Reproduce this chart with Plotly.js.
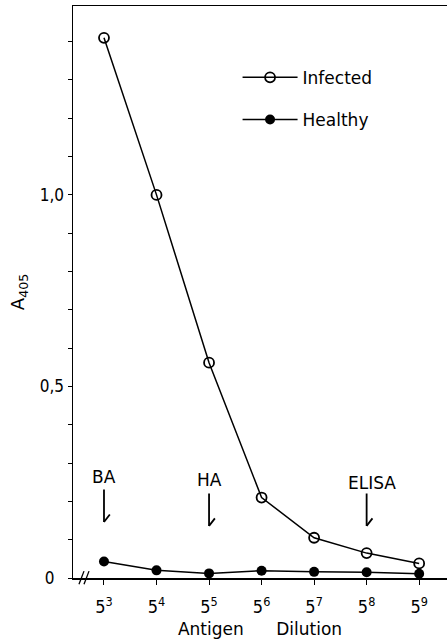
<!DOCTYPE html>
<html>
<head>
<meta charset="utf-8">
<script src="https://cdn.plot.ly/plotly-3.0.1.min.js"></script>
<style>html,body{margin:0;padding:0;background:#fff;}#chart{width:447px;height:641px;}</style>
</head>
<body>
<div id="chart"></div>
<script>
// Dilution exponents (antigen dilution 5^n)
var dilutionExp = [3, 4, 5, 6, 7, 8, 9];
var dilutionLabels = ['5<sup>3</sup>','5<sup>4</sup>','5<sup>5</sup>','5<sup>6</sup>','5<sup>7</sup>','5<sup>8</sup>','5<sup>9</sup>'];
// A405 readings
var infected = [1.41, 1.00, 0.562, 0.21, 0.105, 0.065, 0.038];
var healthy  = [0.043, 0.020, 0.012, 0.019, 0.016, 0.015, 0.011];
// y tick values & labels
var yTickVals = [0, 0.5, 1.0];
var yTickText = ['0\u00a0\u00a0', '0,5', '1,0'];
// method markers
var methodNames = ['BA', 'HA', 'ELISA'];
var methodDilution = [3, 5, 8];

var FONT = 'DejaVu Sans, sans-serif';
var NARROW = 'Liberation Sans Narrow, DejaVu Sans Condensed, Arial Narrow, sans-serif';

var traces = [
  {x: dilutionExp, y: infected, name: 'Infected', mode: 'lines+markers', legendgroup: 'a',
   line: {color: '#000', width: 1.5},
   marker: {symbol: 'circle-open', size: 10, color: '#000', line: {width: 1.8, color: '#000'}}},
  {x: dilutionExp, y: healthy, name: 'Healthy', mode: 'lines+markers', legendgroup: 'b',
   line: {color: '#000', width: 1.5},
   marker: {symbol: 'circle', size: 10, color: '#000'}}
];

// label / arrow placement (layout only)
var textY = [0.264, 0.256, 0.248];
var textXOff = [0, 0, 0.1];
var arrowBottom = [0.146, 0.136, 0.136];
var annotations = [];
for (var i = 0; i < methodNames.length; i++) {
  annotations.push({x: methodDilution[i] + textXOff[i], y: textY[i], xref: 'x', yref: 'y', text: methodNames[i],
    showarrow: false, font: {family: FONT, size: 17, color: '#000'}});
  // vertical shaft
  annotations.push({x: methodDilution[i], y: arrowBottom[i], xref: 'x', yref: 'y', text: '',
    showarrow: true, arrowhead: 0, arrowwidth: 1.8, arrowcolor: '#000', ax: 0, ay: -34});
  // half barb
  annotations.push({x: methodDilution[i], y: arrowBottom[i], xref: 'x', yref: 'y', text: '',
    showarrow: true, arrowhead: 0, arrowwidth: 1.8, arrowcolor: '#000', ax: 7, ay: -9});
}

var layout = {
  width: 447, height: 641,
  margin: {l: 73, r: 0, t: 6, b: 63},
  paper_bgcolor: '#fff', plot_bgcolor: '#fff',
  font: {family: FONT, color: '#000'},
  showlegend: true,
  legend: {x: 0.44, y: 0.906, xanchor: 'left', yanchor: 'top', bgcolor: 'rgba(0,0,0,0)',
    itemwidth: 55,
    font: {family: FONT, size: 17, color: '#000'}, traceorder: 'grouped', tracegroupgap: 17},
  xaxis: {
    range: [2.41, 9.53], tickvals: dilutionExp, ticktext: dilutionLabels,
    showgrid: false, zeroline: false, showline: true, linecolor: '#000', linewidth: 1.5,
    mirror: true, ticks: 'outside', ticklen: 5, tickwidth: 1, tickcolor: '#000',
    ticklabelstandoff: 7,
    tickfont: {family: NARROW, size: 18, color: '#000'},
    title: {text: 'Antigen\u00a0\u00a0\u00a0\u00a0\u00a0\u00a0Dilution', font: {family: FONT, size: 17, color: '#000'}, standoff: 7}
  },
  yaxis: {
    range: [0, 1.493], tickvals: yTickVals, ticktext: yTickText,
    showgrid: false, zeroline: false, showline: true, linecolor: '#000', linewidth: 1.5,
    ticks: 'outside', ticklen: 4, tickwidth: 1, tickcolor: '#000',
    minor: {dtick: 0.1, tick0: 0, ticks: 'outside', ticklen: 4, tickwidth: 1, tickcolor: '#000', showgrid: false},
    tickfont: {family: NARROW, size: 17, color: '#000'},
    title: {text: 'A<sub>405</sub>', font: {family: FONT, size: 18, color: '#000'}, standoff: 10}
  },
  shapes: [
    {type: 'line', xref: 'paper', yref: 'paper', x0: 0.016, y0: -0.011, x1: 0.0294, y1: 0.012, line: {color: '#000', width: 1.3}},
    {type: 'line', xref: 'paper', yref: 'paper', x0: 0.0294, y0: -0.011, x1: 0.0428, y1: 0.012, line: {color: '#000', width: 1.3}}
  ],
  annotations: annotations
};

Plotly.newPlot('chart', traces, layout, {displayModeBar: false, staticPlot: true});
</script>
</body>
</html>
